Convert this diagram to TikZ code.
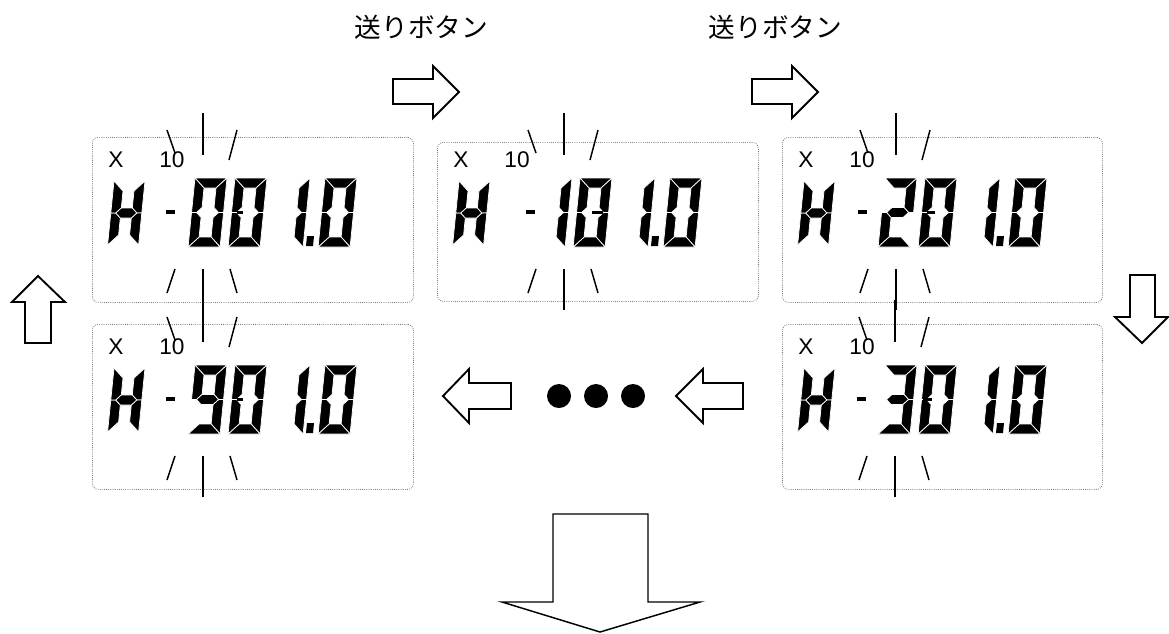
\documentclass[tikz,border=0pt]{standalone}
\usepackage{fontspec}
\setmainfont{Liberation Sans}
\newfontfamily\cjkfont{Noto Sans CJK JP}
\tikzset{
  seg/.style={fill=black, draw=white, line width=0.55pt},
  panel/.style={draw=black!55, densely dotted, line width=0.6pt, rounded corners=4.5pt, inner sep=0pt, anchor=north west},
  burst/.style={line width=1.1pt, draw=black},
  blockarrow/.style={draw=black, fill=white, line width=1.4pt, line join=miter},
  lcdtext/.style={font=\fontsize{17pt}{19pt}\selectfont, inner sep=0pt, anchor=base},
  jptext/.style={font=\cjkfont\fontsize{20pt}{24pt}\selectfont, inner sep=0pt, anchor=base},
  dotnode/.style={circle, fill=black, inner sep=0pt, minimum size=18pt},
}
% seven-segment pieces (local coords, y downward)
\newcommand\lcdsega{\path[seg] (0,0) -- (\dw,0) -- (\dw-\dt,\dt) -- (\dt,\dt) -- cycle;}
\newcommand\lcdsegb{\path[seg] (\dw,0) -- (\dw,\dm) -- (\dw-\dt/2,\dm) -- (\dw-\dt,\dm-\dt/2) -- (\dw-\dt,\dt) -- cycle;}
\newcommand\lcdsegc{\path[seg] (\dw,\dm) -- (\dw,\dh) -- (\dw-\dt,\dh-\dt) -- (\dw-\dt,\dm+\dt/2) -- (\dw-\dt/2,\dm) -- cycle;}
\newcommand\lcdsegd{\path[seg] (0,\dh) -- (\dt,\dh-\dt) -- (\dw-\dt,\dh-\dt) -- (\dw,\dh) -- cycle;}
\newcommand\lcdsege{\path[seg] (0,\dm) -- (\dt/2,\dm) -- (\dt,\dm+\dt/2) -- (\dt,\dh-\dt) -- (0,\dh) -- cycle;}
\newcommand\lcdsegf{\path[seg] (0,0) -- (\dt,\dt) -- (\dt,\dm-\dt/2) -- (\dt/2,\dm) -- (0,\dm) -- cycle;}
\newcommand\lcdsegg{\path[seg] (\dt/2,\dm) -- (\dt,\dm-\dt/2) -- (\dw-\dt,\dm-\dt/2) -- (\dw-\dt/2,\dm) -- (\dw-\dt,\dm+\dt/2) -- (\dt,\dm+\dt/2) -- cycle;}
% #1 x0, #2 y0, #3 width, #4 height, #5 segment list
\newcommand\lcdchar[5]{%
  \begin{scope}[shift={(#1,#2)}, xslant=0.1]
    \def\dw{#3}\def\dh{#4}\def\dt{10}%
    \pgfmathsetmacro\dm{#4/2}%
    \foreach \s in {#5}{\csname lcdseg\s\endcsname}
  \end{scope}}
% #1 name prefix, #2 L, #3 row offset, #4 dash offset, #5 digit segs, #6 mid-dash start, #7 mid-dash width
\newcommand\lcdcontent[7]{%
  \node[lcdtext] (#1x) at (#2+24,167+#3) {X};
  \node[lcdtext] (#1ten) at (#2+80,167+#3) {10};
  \lcdchar{#2+22}{181+#3}{31}{64}{b,c,e,f,g}
  \fill (#2+#4,210+#3) rectangle ++(9,4);
  \lcdchar{#2+103}{178+#3}{32}{69}{#5}
  \lcdchar{#2+143}{178+#3}{32}{69}{a,b,c,d,e,f}
  \fill (#2+#6,211+#3) rectangle ++(#7,3);
  \lcdchar{#2+186}{178+#3}{32}{69}{b,c}
  \fill (#2+215,236+#3) -- (#2+222,236+#3) -- (#2+221,246+#3) -- (#2+214,246+#3) -- cycle;
  \lcdchar{#2+233}{178+#3}{32}{69}{a,b,c,d,e,f}
}
% #1 V, #2 row offset
\newcommand\topburst[2]{%
  \draw[burst] (#1,113+#2) -- (#1,155+#2);
  \draw[burst] (#1-36,130+#2) -- (#1-28,153+#2);
  \draw[burst] (#1+34,130+#2) -- (#1+26,160+#2);}
\newcommand\botburst[2]{%
  \draw[burst] (#1,269+#2) -- (#1,310+#2);
  \draw[burst] (#1-28,269+#2) -- (#1-36,293+#2);
  \draw[burst] (#1+27,269+#2) -- (#1+34,293+#2);}
\begin{document}
\begin{tikzpicture}[x=0.75pt, y=-0.75pt]
  \useasboundingbox (0,0) rectangle (1169,633);
  \fill[white] (0,0) rectangle (1169,633);

  % panels
  \node[panel, minimum width=240.75pt, minimum height=123.75pt] (p1) at (92,137) {};
  \node[panel, minimum width=240.75pt, minimum height=119.25pt] (p2) at (437,142) {};
  \node[panel, minimum width=240pt, minimum height=123.75pt] (p3) at (782,137) {};
  \node[panel, minimum width=240.75pt, minimum height=123.75pt] (p4) at (92,324) {};
  \node[panel, minimum width=240pt, minimum height=123.75pt] (p5) at (782,324) {};

  % displays
  \lcdcontent{pa}{92}{0}{74}{a,b,c,d,e,f}{145}{6}
  \lcdcontent{pb}{437}{0}{89}{b,c}{155}{11}
  \lcdcontent{pc}{782}{0}{76}{a,b,g,e,d}{145}{8}
  \lcdcontent{pd}{92}{187}{74}{a,b,c,d,f,g}{145}{6}
  \lcdcontent{pe}{782}{187}{75}{a,b,g,c,d}{141}{9}

  % blinking marks
  \topburst{203}{0}  \botburst{203}{0}
  \topburst{564}{0}  \botburst{564}{0}
  \topburst{896}{0}  \botburst{896}{0}
  \topburst{203}{187}\botburst{203}{187}
  \topburst{895}{187}\botburst{895}{187}

  % labels
  \node[jptext] (lab1) at (421.5,37) {送りボタン};
  \node[jptext] (lab2) at (775.5,37) {送りボタン};

  % block arrows
  \draw[blockarrow] (393,79) -- (433,79) -- (433,66) -- (459,92) -- (433,118) -- (433,104) -- (393,104) -- cycle;
  \draw[blockarrow] (752,79) -- (792,79) -- (792,66) -- (818,92) -- (792,118) -- (792,104) -- (752,104) -- cycle;
  \draw[blockarrow] (25,343) -- (25,302) -- (12,302) -- (38,276) -- (65,302) -- (51,302) -- (51,343) -- cycle;
  \draw[blockarrow] (1130,275) -- (1155,275) -- (1155,317) -- (1168,317) -- (1142,343) -- (1115,317) -- (1130,317) -- cycle;
  \draw[blockarrow] (511,383) -- (469,383) -- (469,369) -- (443,396) -- (469,423) -- (469,409) -- (511,409) -- cycle;
  \draw[blockarrow] (743,383) -- (703,383) -- (703,369) -- (676,396) -- (703,423) -- (703,409) -- (743,409) -- cycle;
  \draw[blockarrow, line width=1.1pt] (553,514) -- (648,514) -- (648,602) -- (700,602) -- (600,632) -- (502,602) -- (553,602) -- cycle;

  % dots
  \node[dotnode] (d1) at (559,396) {};
  \node[dotnode] (d2) at (596,396) {};
  \node[dotnode] (d3) at (633,396) {};
\end{tikzpicture}
\end{document}
